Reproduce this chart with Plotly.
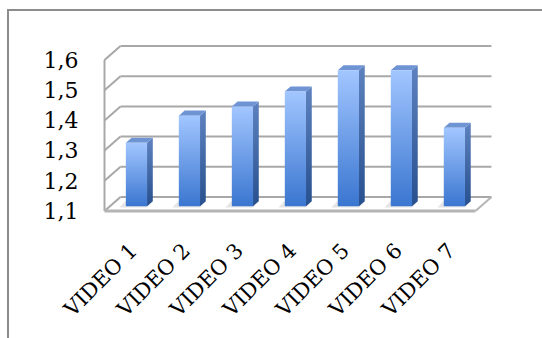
import plotly.graph_objects as go

categories = ["VIDEO 1", "VIDEO 2", "VIDEO 3", "VIDEO 4", "VIDEO 5", "VIDEO 6", "VIDEO 7"]
values = [1.31, 1.40, 1.43, 1.48, 1.55, 1.55, 1.36]
y_ticks = [1.1, 1.2, 1.3, 1.4, 1.5, 1.6]

Y_MIN, Y_MAX = 1.1, 1.6
DX, DY = 0.302, 0.0464          # depth of the 3D box, in axis units
BAR_W = 0.40                     # bar width in category units
B_OFF = 0.34                     # bar front position (fraction of depth)
B_DEPTH = 0.36                   # bar depth (fraction of depth)

GRID = "#a8a8a8"
fig = go.Figure()

def seg(xs, ys, color=GRID, width=2):
    fig.add_trace(go.Scatter(x=xs, y=ys, mode="lines", line=dict(color=color, width=width),
                             hoverinfo="skip", showlegend=False))

n = len(categories)
xl, xr = -0.5, n - 0.5
# back wall gridlines and left-wall diagonals
for v in y_ticks:
    seg([xl + DX, xr + DX], [v + DY, v + DY])
    seg([xl, xl + DX], [v, v + DY])
# left wall front edge
seg([xl, xl], [Y_MIN, Y_MAX])
# floor front edge and right edge
seg([xl, xr], [Y_MIN, Y_MIN], color="#b4b4b4", width=3)
seg([xr, xr + DX], [Y_MIN, Y_MIN + DY], color="#b4b4b4", width=2)

bx, by = B_OFF * DX, B_OFF * DY
ddx, ddy = B_DEPTH * DX, B_DEPTH * DY
for i, v in enumerate(values):
    x0, x1 = i - BAR_W / 2 + bx, i + BAR_W / 2 + bx
    y0, y1 = Y_MIN + by, v + by
    # floor shadow
    fig.add_trace(go.Scatter(
        x=[x0 - 0.12, x1, x1 + ddx, x0 + ddx - 0.12, x0 - 0.12],
        y=[y0 - 0.004, y0 - 0.004, y0 + ddy, y0 + ddy, y0 - 0.004],
        fill="toself", fillcolor="rgba(150,150,150,0.25)", line=dict(width=0),
        mode="lines", hoverinfo="skip", showlegend=False))
    # side face
    fig.add_trace(go.Scatter(
        x=[x1, x1 + ddx, x1 + ddx, x1, x1], y=[y0, y0 + ddy, y1 + ddy, y1, y0],
        fill="toself", mode="lines", line=dict(width=0),
        fillgradient=dict(type="vertical", colorscale=[[0, "#28508e"], [1, "#5d82bf"]]),
        hoverinfo="skip", showlegend=False))
    # top face
    fig.add_trace(go.Scatter(
        x=[x0, x1, x1 + ddx, x0 + ddx, x0], y=[y1, y1, y1 + ddy, y1 + ddy, y1],
        fill="toself", fillcolor="#6f94d4", mode="lines", line=dict(width=0),
        hoverinfo="skip", showlegend=False))
    # front face
    fig.add_trace(go.Scatter(
        x=[x0, x1, x1, x0, x0], y=[y0, y0, y1, y1, y0],
        fill="toself", mode="lines", line=dict(width=0),
        fillgradient=dict(type="vertical", colorscale=[[0, "#3a76d0"], [1, "#a2c6ff"]]),
        hoverinfo="skip", showlegend=False))

L, R, T, B = 100, 30, 30, 110
fig.update_layout(
    width=542, height=338,
    margin=dict(l=L, r=R, t=T, b=B, autoexpand=False),
    paper_bgcolor="white", plot_bgcolor="white",
    separators=", ",
    font=dict(family="DejaVu Serif", color="#000000"),
    showlegend=False,
    xaxis=dict(range=[-0.585, 7.19], tickvals=list(range(n)), ticktext=categories,
               tickangle=-45, showgrid=False, zeroline=False, showline=False,
               automargin=False,
               ticks="outside", ticklen=1, tickcolor="rgba(0,0,0,0)",
               tickfont=dict(size=21, family="DejaVu Serif")),
    yaxis=dict(range=[1.0437, 1.6993], tickvals=y_ticks, tickformat=".1f",
               showgrid=False, zeroline=False, showline=False,
               automargin=False,
               ticks="outside", ticklen=16, tickcolor="rgba(0,0,0,0)",
               tickfont=dict(size=22, family="DejaVu Serif")),
    shapes=[dict(type="rect", xref="paper", yref="paper",
                 x0=-0.2233, x1=1.2, y0=-0.7, y1=1.101,
                 line=dict(color="#8c8c8c", width=2))],
)

fig.write_html("out.html")
